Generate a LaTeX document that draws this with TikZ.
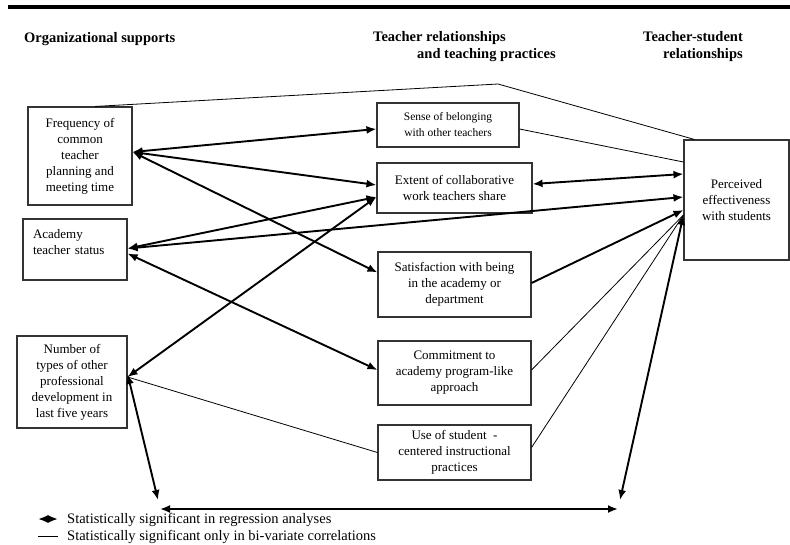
\documentclass[tikz,border=0pt]{standalone}
\usepackage{fontspec}
\usetikzlibrary{arrows.meta}
\setmainfont{Liberation Serif}
\newcommand\figboxfont{\fontsize{13}{16}\selectfont}
\newcommand\figsmallfont{\fontsize{11.5}{16}\selectfont}
\newcommand\fighdrfont{\fontsize{14.5}{17}\selectfont\bfseries}
\newcommand\figlegfont{\fontsize{14.5}{17}\selectfont}

\begin{document}
\begin{tikzpicture}[x=1pt,y=-1pt,>={Latex[length=10pt,width=8pt]},
    box/.style={draw=black!80,line width=1.1pt,align=center,inner sep=2pt,font=\figboxfont},
    sig/.style={<->,line width=1.9pt},
    corr/.style={line width=0.8pt}]
  \useasboundingbox (0,0) rectangle (790,544);
  \draw[line width=3.5pt] (8,7) -- (790,7);
  % column headings
  \node[anchor=base west,inner sep=0,font=\fighdrfont] (hleft) at (24,42) {Organizational supports};
  \node[anchor=north west,inner sep=0,align=left,font=\fighdrfont] (hmid) at (373,31) {Teacher relationships\\\hspace*{44pt}and teaching practices};
  \node[anchor=north west,inner sep=0,align=left,font=\fighdrfont] (hright) at (643,31) {Teacher-student\\\hspace*{20pt}relationships};

  % left column
  \node[box,minimum width=104pt,minimum height=98pt] (freq) at (80,156) {Frequency of\\common\\teacher\\planning and\\meeting time};
  \node[box,align=left,text width=84pt,inner xsep=10pt,minimum height=61pt] (acad) at (75,249.5) {Academy\\teacher status\\\mbox{}};
  \node[box,minimum width=110pt,minimum height=92pt] (num) at (72,382) {Number of\\types of other\\professional\\development in\\last five years};

  % middle column
  \node[box,font=\figsmallfont,minimum width=142pt,minimum height=44pt] (sense) at (448,125) {Sense of belonging\\with other teachers};
  \node[box,minimum width=155pt,minimum height=50pt] (ext) at (454.5,188) {Extent of collaborative\\work teachers share};
  \node[box,minimum width=153pt,minimum height=65pt] (sat) at (454.5,284.5) {Satisfaction with being\\in the academy or\\department};
  \node[box,minimum width=153pt,minimum height=64pt] (comm) at (454.5,373) {Commitment to\\academy program-like\\approach};
  \node[box,minimum width=153pt,minimum height=55pt] (use) at (454.5,452.5) {Use of student\enspace-\\centered instructional\\practices};

  % right column
  \node[box,minimum width=105pt,minimum height=120pt] (perc) at (736.5,200) {Perceived\\effectiveness\\with students};

  \coordinate (peak) at (498,84);
  \coordinate (bl) at (158,500);
  \coordinate (bl2) at (160,509);
  \coordinate (br) at (618,509);
  \coordinate (br2) at (620,500);

  % bi-variate only
  \draw[corr] ([xshift=15pt]freq.north) -- (peak) -- ([xshift=11pt]perc.north west);
  \draw[corr] ([yshift=-4pt]sense.east) -- ([yshift=38pt]perc.west);
  \draw[corr] ([yshift=5pt]num.east) -- (use.west);
  \draw[corr] ([yshift=3pt]comm.east) -- ([yshift=-15pt]perc.west);
  \draw[corr] ([yshift=5pt]use.east) -- ([yshift=-15pt]perc.west);

  % regression
  \draw[sig] ([yshift=4pt]freq.east) -- ([yshift=-4pt]sense.west);
  \draw[sig] ([yshift=4pt]freq.east) -- ([yshift=3pt]ext.west);
  \draw[sig] ([yshift=4pt]freq.east) -- ([yshift=12pt]sat.west);
  \draw[sig] ([yshift=1pt]acad.east) -- ([yshift=-9pt]ext.west);
  \draw[sig] ([yshift=1pt]acad.east) -- ([yshift=3pt]perc.west);
  \draw[sig] ([yshift=-4pt]acad.east) -- ([yshift=3pt]comm.west);
  \draw[sig] ([yshift=5pt]num.east) -- ([yshift=-9pt]ext.west);
  \draw[sig] ([yshift=4pt]ext.east) -- ([yshift=26pt]perc.west);
  \draw[sig,->] ([yshift=1.5pt]sat.east) -- ([yshift=-10pt]perc.west);
  \draw[sig] ([yshift=8pt]num.east) -- (bl);
  \draw[sig] (bl2) -- (br);
  \draw[sig] ([yshift=-15pt]perc.west) -- (br2);

  % legend
  \node[anchor=base west,inner sep=0,font=\figlegfont] (leg1) at (67,523) {Statistically significant in regression analyses};
  \node[anchor=base west,inner sep=0,font=\figlegfont] (leg2) at (67,540) {Statistically significant only in bi-variate correlations};
  \draw[sig] ([shift={(-29pt,4pt)}]leg1.base west) -- ([shift={(-9pt,4pt)}]leg1.base west);
  \draw[corr] ([shift={(-29pt,4pt)}]leg2.base west) -- ([shift={(-9pt,4pt)}]leg2.base west);
\end{tikzpicture}
\end{document}
